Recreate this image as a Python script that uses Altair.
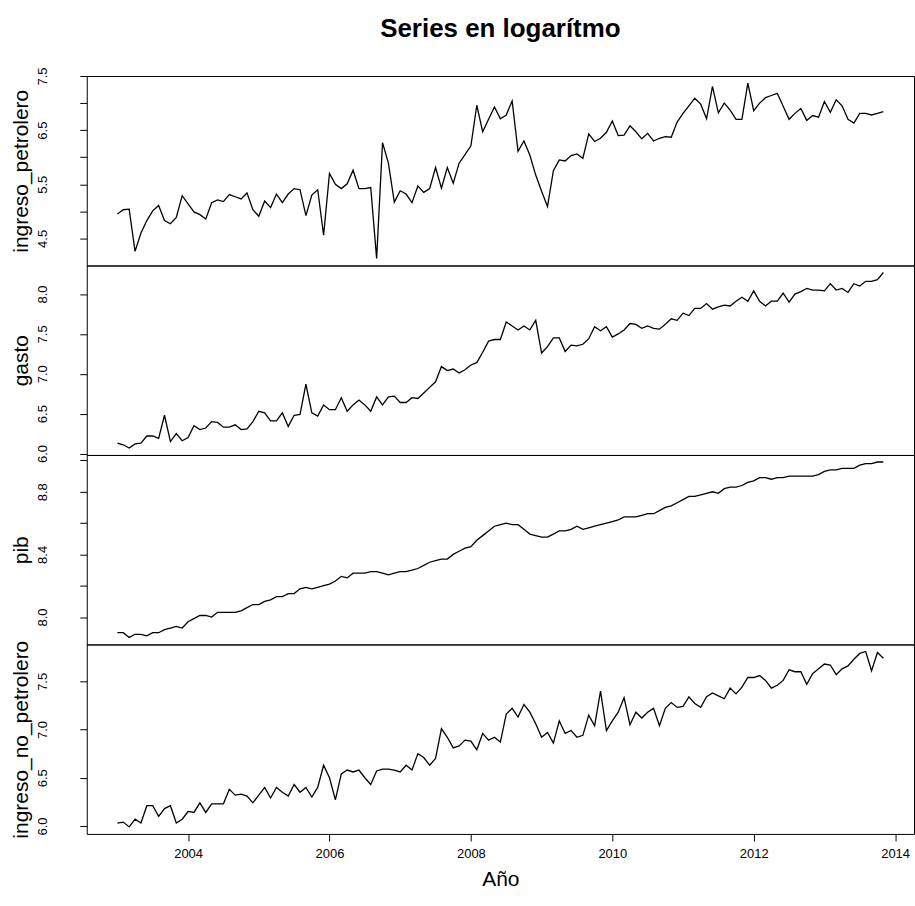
import altair as alt
import pandas as pd

# Monthly series, Jan 2003 .. Nov 2013 (131 observations), log scale
months = pd.date_range("2003-01-01", periods=131, freq="MS")
t = [d.year + (d.month - 1) / 12 for d in months]

ingreso_petrolero = [
    4.95, 5.03, 5.04, 4.26, 4.60, 4.83, 5.01, 5.11, 4.83, 4.77, 4.89, 5.29,
    5.14, 4.99, 4.94, 4.86, 5.16, 5.21, 5.18, 5.31, 5.27, 5.23, 5.34, 5.03,
    4.91, 5.19, 5.07, 5.32, 5.16, 5.32, 5.42, 5.40, 4.92, 5.30, 5.40, 4.56,
    5.70, 5.50, 5.42, 5.51, 5.76, 5.42, 5.42, 5.44, 4.13, 6.27, 5.89, 5.17,
    5.38, 5.32, 5.16, 5.47, 5.35, 5.42, 5.81, 5.43, 5.81, 5.52, 5.89, 6.05,
    6.21, 6.96, 6.47, 6.70, 6.93, 6.71, 6.78, 7.04, 6.11, 6.30, 6.04, 5.67,
    5.37, 5.09, 5.75, 5.95, 5.93, 6.03, 6.06, 5.98, 6.43, 6.29, 6.35, 6.46,
    6.67, 6.40, 6.41, 6.58, 6.47, 6.34, 6.44, 6.30, 6.35, 6.38, 6.37, 6.65,
    6.81, 6.95, 7.09, 6.98, 6.71, 7.31, 6.82, 7.00, 6.87, 6.70, 6.70, 7.37,
    6.86, 7.00, 7.10, 7.14, 7.18, 6.94, 6.70, 6.81, 6.90, 6.68, 6.77, 6.74,
    7.03, 6.83, 7.06, 6.95, 6.70, 6.63, 6.81, 6.81, 6.78, 6.81, 6.84,
]
gasto = [
    6.13, 6.11, 6.07, 6.12, 6.13, 6.22, 6.22, 6.19, 6.48, 6.15, 6.25, 6.16,
    6.20, 6.35, 6.30, 6.32, 6.40, 6.39, 6.33, 6.33, 6.36, 6.30, 6.31, 6.40,
    6.53, 6.51, 6.41, 6.41, 6.51, 6.34, 6.48, 6.49, 6.87, 6.51, 6.47, 6.61,
    6.55, 6.55, 6.70, 6.53, 6.61, 6.67, 6.61, 6.53, 6.71, 6.61, 6.71, 6.72,
    6.64, 6.64, 6.70, 6.69, 6.76, 6.83, 6.90, 7.09, 7.04, 7.06, 7.01, 7.05,
    7.11, 7.14, 7.27, 7.41, 7.43, 7.43, 7.65, 7.60, 7.55, 7.60, 7.55, 7.67,
    7.26, 7.34, 7.45, 7.45, 7.28, 7.36, 7.35, 7.37, 7.44, 7.59, 7.54, 7.59,
    7.46, 7.50, 7.55, 7.63, 7.62, 7.57, 7.60, 7.57, 7.56, 7.62, 7.69, 7.67,
    7.76, 7.73, 7.82, 7.82, 7.88, 7.81, 7.84, 7.86, 7.85, 7.91, 7.96, 7.91,
    8.04, 7.91, 7.85, 7.91, 7.91, 8.01, 7.90, 8.00, 8.03, 8.07, 8.05, 8.05,
    8.04, 8.13, 8.05, 8.07, 8.02, 8.13, 8.10, 8.16, 8.16, 8.18, 8.27,
]
pib = [
    7.90, 7.90, 7.87, 7.89, 7.89, 7.88, 7.90, 7.90, 7.92, 7.93, 7.94, 7.93,
    7.97, 7.99, 8.01, 8.01, 8.00, 8.03, 8.03, 8.03, 8.03, 8.04, 8.06, 8.08,
    8.08, 8.10, 8.11, 8.13, 8.13, 8.15, 8.15, 8.18, 8.19, 8.18, 8.19, 8.20,
    8.21, 8.23, 8.26, 8.25, 8.28, 8.28, 8.28, 8.29, 8.29, 8.28, 8.27, 8.28,
    8.29, 8.29, 8.30, 8.31, 8.33, 8.35, 8.36, 8.37, 8.37, 8.40, 8.42, 8.44,
    8.45, 8.49, 8.52, 8.55, 8.58, 8.59, 8.60, 8.59, 8.59, 8.56, 8.53, 8.52,
    8.51, 8.51, 8.53, 8.55, 8.55, 8.56, 8.58, 8.56, 8.57, 8.58, 8.59, 8.60,
    8.61, 8.62, 8.64, 8.64, 8.64, 8.65, 8.66, 8.66, 8.68, 8.70, 8.71, 8.73,
    8.75, 8.77, 8.77, 8.78, 8.79, 8.80, 8.79, 8.82, 8.83, 8.83, 8.84, 8.86,
    8.87, 8.89, 8.89, 8.88, 8.89, 8.89, 8.90, 8.90, 8.90, 8.90, 8.90, 8.91,
    8.93, 8.94, 8.94, 8.95, 8.95, 8.95, 8.97, 8.98, 8.98, 8.99, 8.99,
]
ingreso_no_petrolero = [
    6.03, 6.04, 5.99, 6.07, 6.03, 6.21, 6.21, 6.10, 6.18, 6.21, 6.03, 6.07,
    6.15, 6.14, 6.24, 6.14, 6.23, 6.23, 6.23, 6.38, 6.32, 6.33, 6.31, 6.24,
    6.32, 6.40, 6.29, 6.40, 6.35, 6.31, 6.43, 6.35, 6.40, 6.30, 6.40, 6.63,
    6.50, 6.27, 6.54, 6.58, 6.56, 6.58, 6.50, 6.43, 6.57, 6.59, 6.59, 6.58,
    6.56, 6.63, 6.58, 6.75, 6.71, 6.63, 6.70, 7.01, 6.92, 6.81, 6.83, 6.89,
    6.88, 6.79, 6.96, 6.89, 6.92, 6.87, 7.16, 7.22, 7.13, 7.26, 7.18, 7.06,
    6.92, 6.97, 6.86, 7.09, 6.96, 6.99, 6.92, 6.94, 7.15, 7.04, 7.40, 6.99,
    7.09, 7.18, 7.33, 7.05, 7.18, 7.12, 7.18, 7.22, 7.04, 7.22, 7.28, 7.23,
    7.24, 7.34, 7.27, 7.23, 7.34, 7.38, 7.35, 7.32, 7.43, 7.37, 7.44, 7.54,
    7.54, 7.56, 7.51, 7.43, 7.46, 7.51, 7.62, 7.60, 7.60, 7.47, 7.58, 7.63,
    7.68, 7.67, 7.57, 7.63, 7.66, 7.73, 7.79, 7.81, 7.61, 7.80, 7.74,
]

series_names = ["ingreso_petrolero", "gasto", "pib", "ingreso_no_petrolero"]
series_values = [ingreso_petrolero, gasto, pib, ingreso_no_petrolero]
y_domains = [[4.0, 7.5], [5.982, 8.358], [7.825, 9.035], [5.917, 7.883]]
y_ticks = [
    [4.5, 5.0, 5.5, 6.0, 6.5, 7.0, 7.5],
    [6.0, 6.5, 7.0, 7.5, 8.0],
    [8.0, 8.2, 8.4, 8.6, 8.8, 9.0],
    [6.0, 6.5, 7.0, 7.5],
]
y_labels_shown = [
    ["4.5", "5.5", "6.5", "7.5"],
    ["6.0", "6.5", "7.0", "7.5", "8.0"],
    ["8.0", "8.4", "8.8"],
    ["6.0", "6.5", "7.0", "7.5"],
]
x_ticks = [2004, 2006, 2008, 2010, 2012, 2014]
x_domain = [2002.567, 2014.267]

FONT = "Liberation Sans"
W, H = 829.5, 190

panels = []
for k, (name, vals) in enumerate(zip(series_names, series_values)):
    df = pd.DataFrame({"t": t, "v": vals})
    shown = "[" + ",".join("'%s'" % s for s in y_labels_shown[k]) + "]"
    y_axis = alt.Axis(
        values=y_ticks[k], format=".1f", title=name,
        labelExpr="indexof(%s, datum.label) >= 0 ? datum.label : ''" % shown,
        labelAngle=270, labelAlign="center", labelBaseline="middle",
        labelPadding=37, labelFontSize=13, labelFont=FONT, labelColor="black",
        labelOverlap=False, labelFlush=False,
        tickSize=7, tickColor="black", tickWidth=1,
        domain=False, grid=False,
        titleFont=FONT, titleFontSize=21, titleFontWeight="normal", titleColor="black",
        titleAngle=270, titleAlign="center", titleBaseline="middle",
        titleX=-65, titleY=H / 2,
    )
    if k == len(series_names) - 1:
        x_axis = alt.Axis(
            values=x_ticks, format="d", title="Año",
            labelFontSize=13, labelFont=FONT, labelColor="black", labelPadding=7,
            labelOverlap=False, labelFlush=False,
            tickSize=7, tickColor="black", tickWidth=1,
            domain=False, grid=False,
            titleFont=FONT, titleFontSize=21, titleFontWeight="normal",
            titleColor="black", titlePadding=8,
        )
    else:
        x_axis = None
    ch = alt.Chart(df).mark_line(color="black", strokeWidth=1.3).encode(
        x=alt.X("t:Q", scale=alt.Scale(domain=x_domain, nice=False, zero=False), axis=x_axis),
        y=alt.Y("v:Q", scale=alt.Scale(domain=y_domains[k], nice=False, zero=False), axis=y_axis),
    ).properties(width=W, height=H)
    if k == 0:
        ch = ch.properties(title=alt.TitleParams(
            "Series en logarítmo", font=FONT, fontSize=26, fontWeight="bold",
            color="black", anchor="middle", frame="group", baseline="alphabetic",
            offset=4,
        ))
    panels.append(ch)

chart = alt.vconcat(*panels, spacing=0, bounds="flush").properties(
    padding={"left": 10, "top": 14, "right": 0, "bottom": 0},
    background="white",
).configure_view(stroke="black", strokeWidth=1)

chart.save("out.html", embed_options={"renderer": "svg", "actions": False})
